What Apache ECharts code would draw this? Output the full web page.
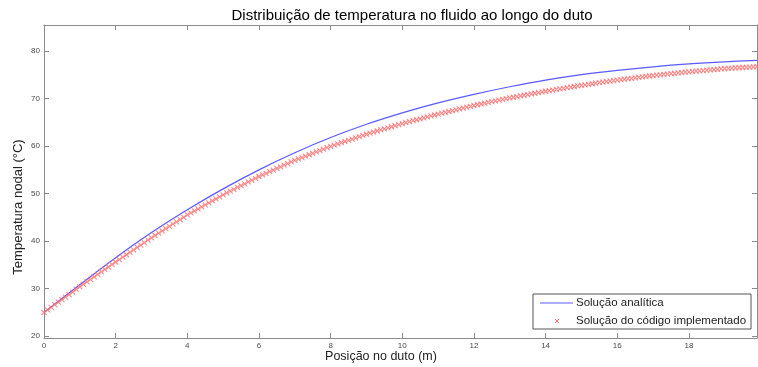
<!DOCTYPE html>
<html>
<head>
<meta charset="utf-8">
<script src="https://cdn.jsdelivr.net/npm/echarts@6/dist/echarts.min.js"></script>
<style>
  html, body { margin: 0; padding: 0; background: #fff; }
  #chart { width: 758px; height: 367px; }
</style>
</head>
<body>
<div id="chart"></div>
<script>
// Temperature along the duct: analytical solution (line)
var analyticX = [0, 1, 2, 3, 4, 5, 6, 7, 8, 9, 10, 11, 12, 13, 14, 15, 16, 17, 18, 19, 19.9];
var analyticT = [25.0, 30.8, 36.5, 41.8, 46.6, 51.0, 55.0, 58.6, 61.8, 64.6, 67.0, 69.1, 70.9, 72.5, 73.9,
                 75.05, 75.95, 76.7, 77.3, 77.75, 78.05];

// Numerical solution from the implemented code (markers), nodes every 0.1 m
var nodeX = [
  0.0, 0.1, 0.2, 0.3, 0.4, 0.5, 0.6, 0.7, 0.8, 0.9,
  1.0, 1.1, 1.2, 1.3, 1.4, 1.5, 1.6, 1.7, 1.8, 1.9,
  2.0, 2.1, 2.2, 2.3, 2.4, 2.5, 2.6, 2.7, 2.8, 2.9,
  3.0, 3.1, 3.2, 3.3, 3.4, 3.5, 3.6, 3.7, 3.8, 3.9,
  4.0, 4.1, 4.2, 4.3, 4.4, 4.5, 4.6, 4.7, 4.8, 4.9,
  5.0, 5.1, 5.2, 5.3, 5.4, 5.5, 5.6, 5.7, 5.8, 5.9,
  6.0, 6.1, 6.2, 6.3, 6.4, 6.5, 6.6, 6.7, 6.8, 6.9,
  7.0, 7.1, 7.2, 7.3, 7.4, 7.5, 7.6, 7.7, 7.8, 7.9,
  8.0, 8.1, 8.2, 8.3, 8.4, 8.5, 8.6, 8.7, 8.8, 8.9,
  9.0, 9.1, 9.2, 9.3, 9.4, 9.5, 9.6, 9.7, 9.8, 9.9,
  10.0, 10.1, 10.2, 10.3, 10.4, 10.5, 10.6, 10.7, 10.8, 10.9,
  11.0, 11.1, 11.2, 11.3, 11.4, 11.5, 11.6, 11.7, 11.8, 11.9,
  12.0, 12.1, 12.2, 12.3, 12.4, 12.5, 12.6, 12.7, 12.8, 12.9,
  13.0, 13.1, 13.2, 13.3, 13.4, 13.5, 13.6, 13.7, 13.8, 13.9,
  14.0, 14.1, 14.2, 14.3, 14.4, 14.5, 14.6, 14.7, 14.8, 14.9,
  15.0, 15.1, 15.2, 15.3, 15.4, 15.5, 15.6, 15.7, 15.8, 15.9,
  16.0, 16.1, 16.2, 16.3, 16.4, 16.5, 16.6, 16.7, 16.8, 16.9,
  17.0, 17.1, 17.2, 17.3, 17.4, 17.5, 17.6, 17.7, 17.8, 17.9,
  18.0, 18.1, 18.2, 18.3, 18.4, 18.5, 18.6, 18.7, 18.8, 18.9,
  19.0, 19.1, 19.2, 19.3, 19.4, 19.5, 19.6, 19.7, 19.8, 19.9
];
var nodeT = [
  25.00, 25.54, 26.07, 26.61, 27.14, 27.68, 28.21, 28.75, 29.28, 29.82,
  30.35, 30.88, 31.40, 31.93, 32.45, 32.98, 33.50, 34.03, 34.55, 35.08,
  35.60, 36.11, 36.62, 37.13, 37.64, 38.15, 38.66, 39.17, 39.68, 40.19,
  40.70, 41.18, 41.66, 42.14, 42.62, 43.10, 43.58, 44.06, 44.54, 45.02,
  45.50, 45.93, 46.35, 46.78, 47.20, 47.63, 48.05, 48.48, 48.90, 49.33,
  49.75, 50.14, 50.52, 50.91, 51.29, 51.68, 52.06, 52.45, 52.83, 53.22,
  53.60, 53.94, 54.28, 54.62, 54.96, 55.30, 55.64, 55.98, 56.32, 56.66,
  57.00, 57.30, 57.59, 57.89, 58.18, 58.48, 58.77, 59.07, 59.36, 59.66,
  59.95, 60.21, 60.46, 60.72, 60.97, 61.23, 61.48, 61.74, 61.99, 62.25,
  62.50, 62.73, 62.95, 63.18, 63.40, 63.63, 63.85, 64.08, 64.30, 64.53,
  64.75, 64.95, 65.15, 65.35, 65.55, 65.75, 65.95, 66.15, 66.35, 66.55,
  66.75, 66.93, 67.11, 67.29, 67.47, 67.65, 67.83, 68.01, 68.19, 68.37,
  68.55, 68.71, 68.87, 69.03, 69.19, 69.35, 69.51, 69.67, 69.83, 69.99,
  70.15, 70.29, 70.43, 70.57, 70.71, 70.85, 70.99, 71.13, 71.27, 71.41,
  71.55, 71.68, 71.80, 71.93, 72.05, 72.18, 72.30, 72.43, 72.55, 72.68,
  72.80, 72.91, 73.02, 73.13, 73.24, 73.35, 73.46, 73.57, 73.68, 73.79,
  73.90, 74.00, 74.09, 74.19, 74.28, 74.38, 74.47, 74.57, 74.66, 74.76,
  74.85, 74.93, 75.01, 75.09, 75.17, 75.25, 75.33, 75.41, 75.49, 75.57,
  75.65, 75.72, 75.78, 75.85, 75.91, 75.98, 76.04, 76.11, 76.17, 76.24,
  76.30, 76.35, 76.40, 76.45, 76.50, 76.55, 76.60, 76.65, 76.70, 76.75
];

var xTicks = [0, 2, 4, 6, 8, 10, 12, 14, 16, 18];
var yTicks = [20, 30, 40, 50, 60, 70, 80];

var seriesNames = ['Solução analítica', 'Solução do código implementado'];

var AXIS_GREY = '#8a8a8a';
var LABEL_GREY = '#4a4a4a';
var BLUE = '#5a5aff';
var RED = '#ff6a6a';
var CROSS = 'path://M0,0L10,10M10,0L0,10';
var FONT = '"Liberation Sans", Arial, sans-serif';

function pairs(xs, ys) {
  return xs.map(function (x, i) { return [x, ys[i]]; });
}

var chart = echarts.init(document.getElementById('chart'), null, { renderer: 'canvas' });

var tickLabelStyle = { color: LABEL_GREY, fontSize: 8, fontFamily: FONT };

function frameAxis(pos, ticks, withLabels, range) {
  return {
    type: 'value', position: pos, min: range[0], max: range[1],
    axisLine: { show: true, onZero: false, lineStyle: { color: AXIS_GREY, width: 1 } },
    axisTick: { show: true, inside: true, length: 5, customValues: ticks, lineStyle: { color: AXIS_GREY } },
    axisLabel: withLabels ? Object.assign({ customValues: ticks, margin: 4 }, tickLabelStyle) : { show: false },
    splitLine: { show: false }
  };
}

var xRange = [0, 19.9];
var yRange = [19.6, 85.5];

chart.setOption({
  backgroundColor: '#ffffff',
  animation: false,
  title: {
    text: 'Distribuição de temperatura no fluido ao longo do duto',
    left: 407, top: 3, textAlign: 'center',
    textStyle: { fontSize: 15, fontWeight: 'normal', color: '#000', fontFamily: FONT }
  },
  grid: { left: 44, right: 1, top: 25, bottom: 29, containLabel: false },
  xAxis: [
    frameAxis('bottom', xTicks, true, xRange),
    frameAxis('top', xTicks, false, xRange)
  ],
  yAxis: [
    frameAxis('left', yTicks, true, yRange),
    frameAxis('right', yTicks, false, yRange)
  ],
  series: [
    {
      name: seriesNames[0], type: 'line', xAxisIndex: 0, yAxisIndex: 0,
      data: pairs(analyticX, analyticT),
      smooth: 0.35, showSymbol: false, symbol: 'none',
      lineStyle: { color: BLUE, width: 1.2 }, z: 2
    },
    {
      name: seriesNames[1], type: 'scatter', xAxisIndex: 0, yAxisIndex: 0,
      data: pairs(nodeX, nodeT),
      symbol: CROSS, symbolSize: 5,
      itemStyle: { color: 'rgba(0,0,0,0)', borderColor: RED, borderWidth: 1.1, opacity: 0.8 },
      z: 3
    }
  ],
  graphic: [
    {
      type: 'text', x: 381, y: 357,
      style: {
        text: 'Posição no duto (m)', textAlign: 'center', textVerticalAlign: 'middle',
        fill: '#222', font: '12.5px ' + FONT
      }
    },
    {
      type: 'text', x: 18, y: 207, rotation: Math.PI / 2,
      style: {
        text: 'Temperatura nodal (°C)', textAlign: 'center', textVerticalAlign: 'middle',
        fill: '#222', font: '13px ' + FONT
      }
    },
    // legend box
    {
      type: 'group', x: 533, y: 294, z: 10,
      children: [
        { type: 'rect', shape: { x: 0, y: 0, width: 218, height: 35 },
          style: { fill: '#fff', stroke: '#555', lineWidth: 1 } },
        { type: 'line', shape: { x1: 7, y1: 9, x2: 40, y2: 9 },
          style: { stroke: BLUE, lineWidth: 1.2 } },
        { type: 'text', style: { x: 43, y: 9, text: seriesNames[0], textVerticalAlign: 'middle',
          fill: '#222', font: '11.5px ' + FONT } },
        { type: 'line', shape: { x1: 22, y1: 25, x2: 26, y2: 29 },
          style: { stroke: RED, lineWidth: 1 } },
        { type: 'line', shape: { x1: 26, y1: 25, x2: 22, y2: 29 },
          style: { stroke: RED, lineWidth: 1 } },
        { type: 'text', style: { x: 43, y: 27, text: seriesNames[1], textVerticalAlign: 'middle',
          fill: '#222', font: '11.5px ' + FONT } }
      ]
    }
  ]
});
</script>
</body>
</html>
